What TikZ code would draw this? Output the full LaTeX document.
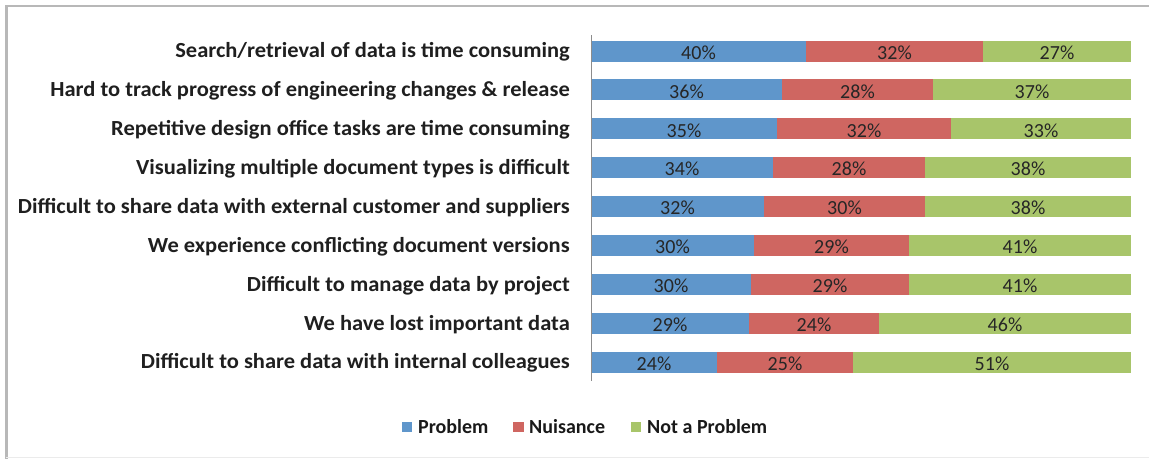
\documentclass[tikz,border=0pt]{standalone}
\usepackage{fontspec}
\setmainfont{Carlito}
\begin{document}
\begin{tikzpicture}[x=1pt,y=-1pt,
  lab/.style={anchor=east,font=\bfseries\fontsize{21.5}{21.5}\selectfont,inner sep=0pt,text=black!88,xscale=1.045},
  pct/.style={font=\fontsize{20}{20}\selectfont,inner sep=0pt,text=black!85},
  leg/.style={anchor=base west,font=\bfseries\fontsize{20}{20}\selectfont,inner sep=0pt,text=black!90}]
\definecolor{cprob}{HTML}{5F96CB}
\definecolor{cnuis}{HTML}{CF6661}
\definecolor{cnot}{HTML}{A8C56A}
\useasboundingbox (0,0) rectangle (1149,458);
\fill[white] (0,0) rectangle (1149,458);
\draw[black!28,line width=2.5pt] (6.5,460) -- (6.5,6) -- (1152,6);
\draw[black!8,line width=1pt] (6,457) -- (1149,457);
% bars
\foreach \i/\a/\b/\pa/\pb/\pc/\t in {
 1/806/983/40/32/27/{Search/retrieval of data is time consuming},
 2/782/933/36/28/37/{Hard to track progress of engineering changes \& release},
 3/777/951/35/32/33/{Repetitive design office tasks are time consuming},
 4/773/925/34/28/38/{Visualizing multiple document types is difficult},
 5/764/925/32/30/38/{Difficult to share data with external customer and suppliers},
 6/754/909/30/29/41/{We experience conflicting document versions},
 7/751/909/30/29/41/{Difficult to manage data by project},
 8/749/879/29/24/46/{We have lost important data},
 9/717/853/24/25/51/{Difficult to share data with internal colleagues}}{
 \pgfmathsetmacro{\yc}{51+(\i-1)*38.9}
 \fill[cprob] (591,\yc-10.5) rectangle (\a,\yc+10.5);
 \fill[cnuis] (\a,\yc-10.5) rectangle (\b,\yc+10.5);
 \fill[cnot] (\b,\yc-10.5) rectangle (1131,\yc+10.5);
 \node[pct] (pa\i) at ({(591+\a)/2},\yc+1.5) {\pa\%};
 \node[pct] (pb\i) at ({(\a+\b)/2},\yc+1.5) {\pb\%};
 \node[pct] (pc\i) at ({(\b+1131)/2},\yc+1.5) {\pc\%};
 \node[lab] (l\i) at (570,\yc+1) {\t};
}
\draw[black!45,line width=1pt] (591,35) -- (591,381);
% legend
\fill[cprob] (402,422) rectangle (412,432);
\node[leg] (lg1) at (418,433.3) {Problem};
\fill[cnuis] (513,422) rectangle (523.5,432);
\node[leg] (lg2) at (529,433.3) {Nuisance};
\fill[cnot] (631,422) rectangle (641,432);
\node[leg] (lg3) at (647,433.3) {Not a Problem};
\end{tikzpicture}
\end{document}
